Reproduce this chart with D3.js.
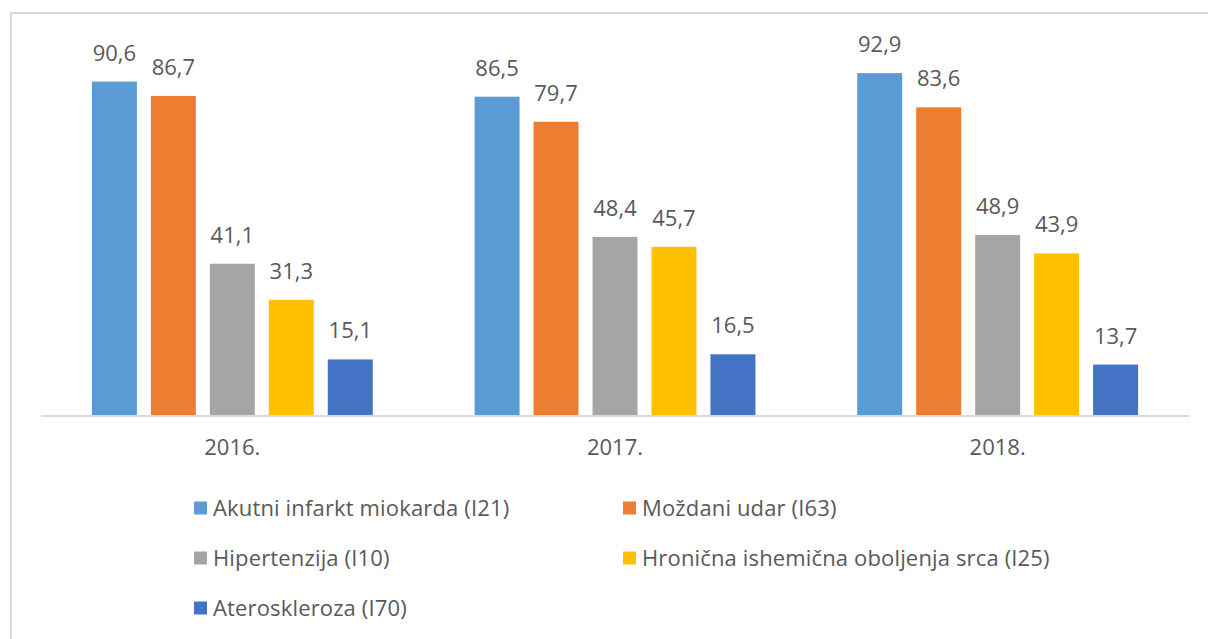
<!DOCTYPE html>
<html>
<head>
<meta charset="utf-8">
<script src="https://cdn.jsdelivr.net/npm/d3@7"></script>
<style>
  body { margin: 0; background: #fff; }
  text { font-family: "Open Sans", sans-serif; fill: #595959; }
</style>
</head>
<body>
<div id="chart"></div>
<script>
// Data
var years = ["2016.", "2017.", "2018."];
var seriesNames = [
    "Akutni infarkt miokarda (I21)",
    "Moždani udar (I63)",
    "Hipertenzija (I10)",
    "Hronična ishemična oboljenja srca (I25)",
    "Ateroskleroza (I70)"
];
var akutni = [90.6, 86.5, 92.9];
var mozdani = [86.7, 79.7, 83.6];
var hipertenzija = [41.1, 48.4, 48.9];
var hronicna = [31.3, 45.7, 43.9];
var ateroskleroza = [15.1, 16.5, 13.7];
var colors = ["#5B9BD5", "#ED7D31", "#A5A5A5", "#FFC000", "#4472C4"];

var allSeries = [akutni, mozdani, hipertenzija, hronicna, ateroskleroza];

var svgWidth = 1208;
var svgHeight = 639;

var svg = d3.select("#chart")
    .append("svg")
    .attr("width", svgWidth)
    .attr("height", svgHeight);

// outer frame (only top/left visible in the picture)
svg.append("rect")
    .attr("x", 11)
    .attr("y", 13)
    .attr("width", 1220)
    .attr("height", 660)
    .attr("fill", "none")
    .attr("stroke", "#d9d9d9")
    .attr("stroke-width", 2);

var plotLeft = 41, plotRight = 1189, baseY = 415, topY = 47;

var x0 = d3.scaleBand()
    .domain(years)
    .range([plotLeft, plotRight])
    .paddingInner(0.266)
    .paddingOuter(0.133);

var x1 = d3.scaleBand()
    .domain(d3.range(seriesNames.length))
    .range([0, x0.bandwidth()])
    .paddingInner(0.237);

var y = d3.scaleLinear()
    .domain([0, 100])
    .range([baseY, topY]);

var rows = years.map((yr, i) => ({
    year: yr,
    values: allSeries.map((s, j) => ({ key: j, value: s[i] }))
}));

var groups = svg.selectAll("g.year")
    .data(rows)
    .enter()
    .append("g")
    .attr("class", "year")
    .attr("transform", d => `translate(${x0(d.year)},0)`);

groups.selectAll("rect")
    .data(d => d.values)
    .enter()
    .append("rect")
    .attr("x", d => x1(d.key))
    .attr("y", d => y(d.value))
    .attr("width", x1.bandwidth())
    .attr("height", d => y(0) - y(d.value))
    .attr("fill", d => colors[d.key]);

groups.selectAll("text.val")
    .data(d => d.values)
    .enter()
    .append("text")
    .attr("class", "val")
    .attr("x", d => x1(d.key) + x1.bandwidth() / 2)
    .attr("y", d => y(d.value) - 21)
    .attr("text-anchor", "middle")
    .style("font-size", "22px")
    .text(d => d.value.toFixed(1).replace(".", ","));

// baseline
svg.append("line")
    .attr("x1", plotLeft)
    .attr("x2", plotRight)
    .attr("y1", baseY + 1)
    .attr("y2", baseY + 1)
    .attr("stroke", "#d9d9d9")
    .attr("stroke-width", 2);

// category axis
var xAxis = svg.append("g")
    .attr("transform", `translate(0, ${baseY})`)
    .call(d3.axisBottom(x0).tickSize(0).tickPadding(24));
xAxis.select(".domain").remove();
xAxis.selectAll("text")
    .style("font-size", "22px")
    .style("font-family", "'Open Sans', sans-serif")
    .attr("fill", "#595959");

// legend
var legendPos = [[194, 508], [623, 508], [194, 558], [623, 558], [194, 608]];
var legend = svg.selectAll("g.legend")
    .data(seriesNames)
    .enter()
    .append("g")
    .attr("class", "legend")
    .attr("transform", (d, i) => `translate(${legendPos[i][0]}, ${legendPos[i][1]})`);

legend.append("rect")
    .attr("x", 0)
    .attr("y", -6.5)
    .attr("width", 13)
    .attr("height", 13)
    .attr("fill", (d, i) => colors[i]);

legend.append("text")
    .attr("x", 19)
    .attr("y", 0)
    .attr("dy", "0.35em")
    .style("font-size", "22px")
    .style("letter-spacing", "0.15px")
    .text(d => d);
</script>
</body>
</html>
